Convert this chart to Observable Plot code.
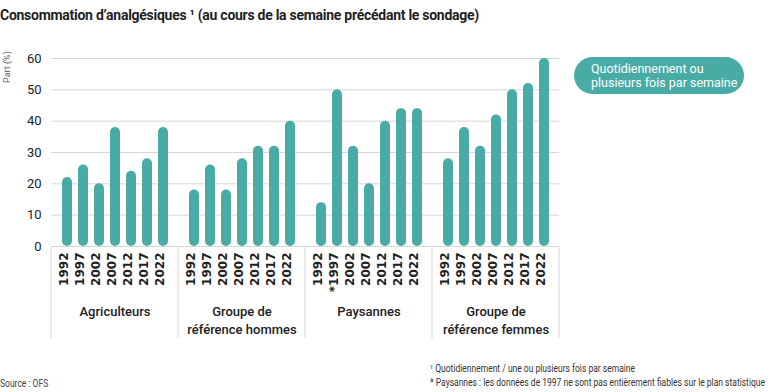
<!DOCTYPE html>
<html><head><meta charset="utf-8">
<script src="https://cdn.jsdelivr.net/npm/d3@7"></script>
<script src="https://cdn.jsdelivr.net/npm/@observablehq/plot@0.6"></script>
<style>
body{margin:0;background:#fff;font-family:Roboto,"Noto Sans",sans-serif;}
#wrap{position:relative;width:768px;height:392px;overflow:hidden;}
#title{position:absolute;left:0;top:7px;font-size:14px;font-weight:700;color:#222;white-space:nowrap;letter-spacing:-0.27px;}
#legend{position:absolute;left:574px;top:57px;width:170px;height:37px;border-radius:19px;background:#49aba5;color:#fff;font-size:12.5px;line-height:14px;box-sizing:border-box;padding:5px 0 0 17px;}
.note{position:absolute;font-size:10px;color:#333;white-space:nowrap;transform:scaleX(0.85);transform-origin:left center;}
#chart{position:absolute;left:0;top:0;}
</style></head>
<body><div id="wrap">
<div id="chart"></div>
<div id="title">Consommation d’analgésiques ¹ (au cours de la semaine précédant le sondage)</div>
<div id="legend">Quotidiennement ou<br>plusieurs fois par semaine</div>
<div class="note" style="left:430px;top:363px;">¹ Quotidiennement / une ou plusieurs fois par semaine</div>
<div class="note" style="left:430px;top:377px;">* Paysannes : les données de 1997 ne sont pas entièrement fiables sur le plan statistique</div>
<div class="note" style="left:0px;top:378px;color:#444;">Source : OFS</div>
</div>
<script>
const groups = ["Agriculteurs", "Groupe de référence hommes", "Paysannes", "Groupe de référence femmes"];
const groupLabels = ["Agriculteurs", "Groupe de\nréférence hommes", "Paysannes", "Groupe de\nréférence femmes"];
const years = ["1992", "1997", "2002", "2007", "2012", "2017", "2022"];
const agriculteurs = [22, 26, 20, 38, 24, 28, 38];
const hommes = [18, 26, 18, 28, 32, 32, 40];
const paysannes = [14, 50, 32, 20, 40, 44, 44];
const femmes = [28, 38, 32, 42, 50, 52, 60];
const yTicks = [0, 10, 20, 30, 40, 50, 60];
const flagged = [["Paysannes", "1997"]];

const series = [agriculteurs, hommes, paysannes, femmes];
const rows = [];
groups.forEach((g, i) => years.forEach((yr, j) => {
  const star = flagged.some(f => f[0] === g && f[1] === yr);
  rows.push({group: g, year: yr, value: series[i][j], label: (star ? "*" : "") + yr});
}));
const groupRows = groups.map((g, i) => ({group: g, label: groupLabels[i]}));
const teal = "#49aba5";

const plot = Plot.plot({
  width: 768, height: 345,
  marginLeft: 50, marginRight: 208, marginTop: 58, marginBottom: 99,
  style: {fontFamily: "Roboto, 'Noto Sans', sans-serif", fontSize: "13px", color: "#222", background: "transparent"},
  fx: {domain: groups, padding: 0, axis: null},
  x: {domain: years, paddingInner: 0.39, paddingOuter: 0.6, axis: null},
  y: {domain: [0, 60], ticks: yTicks, tickSize: 0, tickPadding: 10, label: null},
  marks: [
    Plot.gridY(yTicks, {stroke: "#d6d6d6", strokeOpacity: 1}),
    Plot.barY(rows, {fx: "group", x: "year", y: "value", fill: teal, rx: 5}),
    Plot.text(rows, {fx: "group", x: "year", text: "label", rotate: -90, textAnchor: "end", frameAnchor: "bottom", dy: 6, fontSize: 12, fontWeight: 600, fontFamily: "DejaVu Sans", fill: "#222"}),
    Plot.text(groupRows, {fx: "group", text: "label", frameAnchor: "bottom", dy: 57, lineAnchor: "top", lineHeight: 1.35, fontSize: 13, fontWeight: 500, fill: "#222"})
  ]
});
document.getElementById("chart").appendChild(plot);

// group separators drawn from the fx scale
const fx = plot.scale("fx");
const y = plot.scale("y");
const svg = d3.select(plot);
const edges = new Set();
groups.forEach(g => { const a = fx.apply(g); edges.add(a); edges.add(a + fx.bandwidth); });
const y0 = y.apply(0);
svg.append("g").selectAll("line").data([...edges]).join("line")
  .attr("x1", d => d).attr("x2", d => d).attr("y1", y0).attr("y2", y0 + 92)
  .attr("stroke", "#d6d6d6").attr("stroke-width", 1);
// y-axis title
svg.append("text").attr("transform", "translate(10,83) rotate(-90)")
  .attr("text-anchor", "start").attr("font-size", 9).attr("fill", "#666")
  .attr("font-family", "Roboto, sans-serif").text("Part (%)");
</script>
</body></html>
